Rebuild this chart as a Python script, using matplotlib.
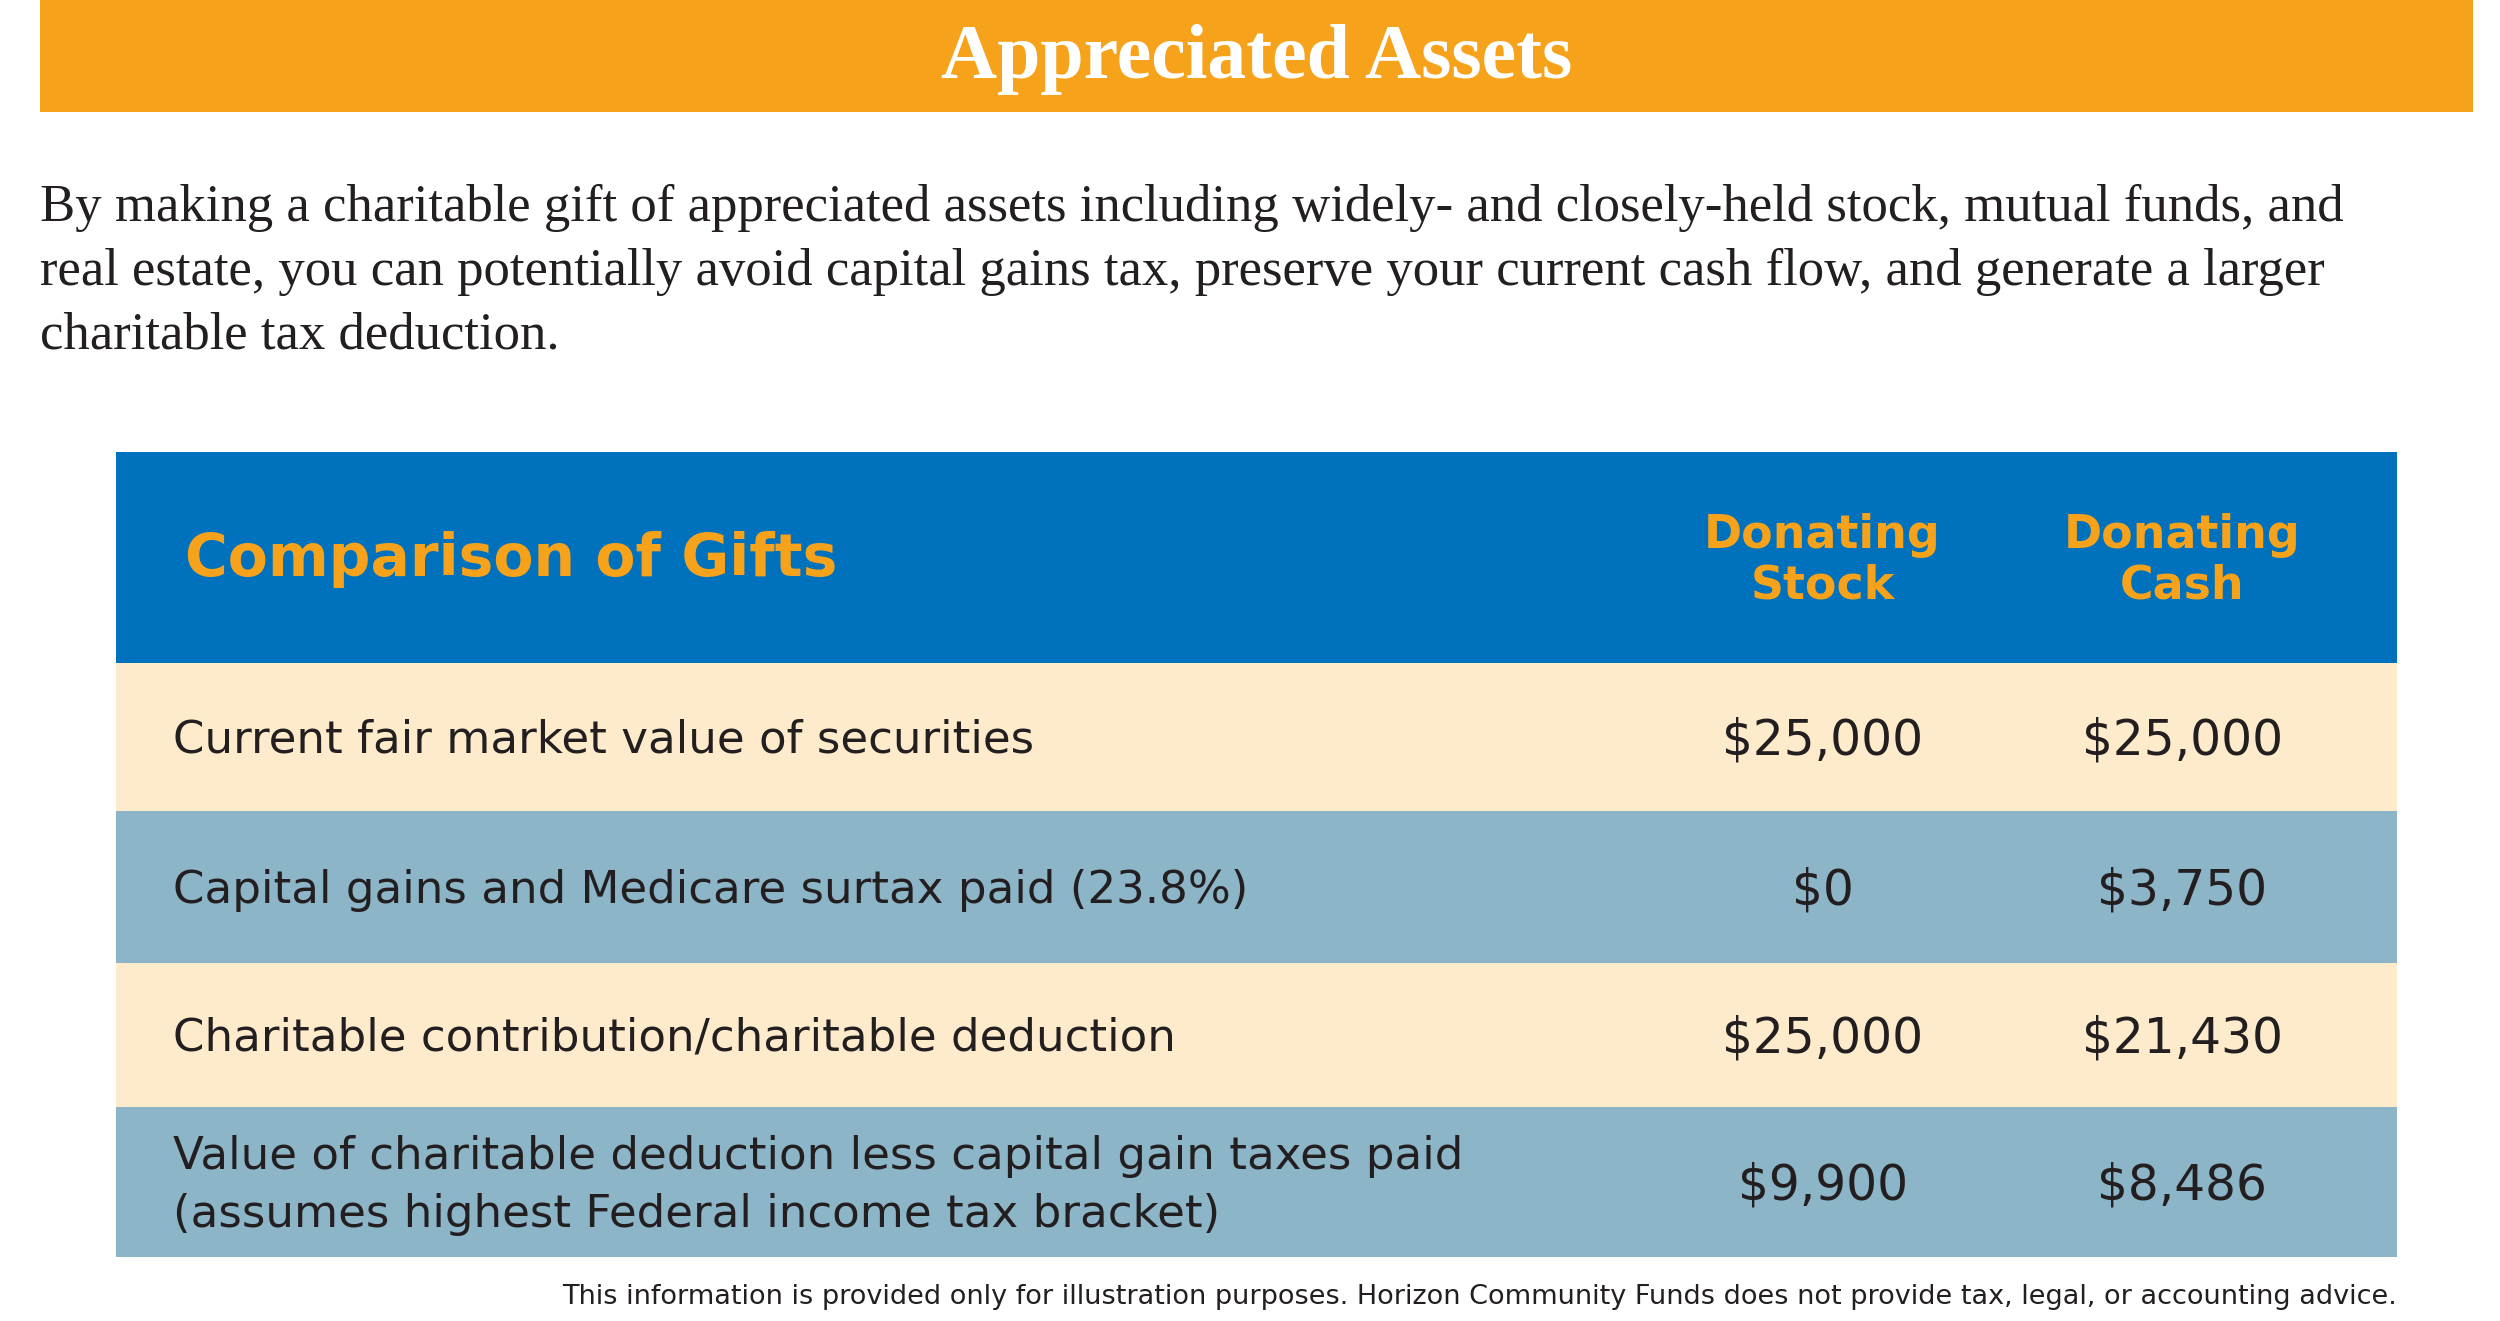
import matplotlib
matplotlib.use("Agg")
import matplotlib.pyplot as plt
from matplotlib.patches import Rectangle

title = "Appreciated Assets"
intro = ["By making a charitable gift of appreciated assets including widely- and closely-held stock, mutual funds, and",
         "real estate, you can potentially avoid capital gains tax, preserve your current cash flow, and generate a larger",
         "charitable tax deduction."]
header = "Comparison of Gifts"
col_heads = ["Donating\nStock", "Donating\nCash"]
row_labels = ["Current fair market value of securities",
              "Capital gains and Medicare surtax paid (23.8%)",
              "Charitable contribution/charitable deduction",
              "Value of charitable deduction less capital gain taxes paid\n(assumes highest Federal income tax bracket)"]
stock_vals = ["$25,000", "$0", "$25,000", "$9,900"]
cash_vals = ["$25,000", "$3,750", "$21,430", "$8,486"]
footnote = "This information is provided only for illustration purposes. Horizon Community Funds does not provide tax, legal, or accounting advice."

W, H = 1550, 827
fig = plt.figure(figsize=(25, 13.21), dpi=100)
ax = fig.add_axes([0, 0, 1, 1])
ax.set_xlim(0, W); ax.set_ylim(H, 0); ax.axis("off")

ORANGE = "#F6A31B"; BLUE = "#0071BC"; CREAM = "#FDEBCB"; GRAY = "#8DB5C8"; DARK = "#231F20"

ax.add_patch(Rectangle((25, 0), 1508, 70, color=ORANGE, lw=0))
ax.text(779, 37, title, ha="center", va="center", color="white", fontsize=56,
        fontweight="bold", family="Liberation Serif")
for i, line in enumerate(intro):
    ax.text(25, 130 + 40 * i, line, ha="left", va="center", color=DARK, fontsize=38,
            family="Liberation Serif")

ax.add_patch(Rectangle((72, 283), 1414, 132, color=BLUE, lw=0))
ax.text(115, 350, header, ha="left", va="center", color=ORANGE, fontsize=42,
        fontweight="bold", family="DejaVu Sans")
cols = [1130, 1353]
for x, h in zip(cols, col_heads):
    ax.text(x, 351, h, ha="center", va="center", color=ORANGE, fontsize=33,
            fontweight="bold", linespacing=1.15)

bounds = [415, 508, 603, 693, 787]
for i, lab in enumerate(row_labels):
    y0, y1 = bounds[i], bounds[i + 1]
    ax.add_patch(Rectangle((72, y0), 1414, y1 - y0, color=CREAM if i % 2 == 0 else GRAY, lw=0))
    yc = (y0 + y1) / 2 + 2
    ax.text(107, yc, lab, ha="left", va="center", color=DARK, fontsize=32.5, linespacing=1.45)
    ax.text(cols[0], yc, stock_vals[i], ha="center", va="center", color=DARK, fontsize=35)
    ax.text(cols[1], yc, cash_vals[i], ha="center", va="center", color=DARK, fontsize=35)

ax.text(1486, 812, footnote, ha="right", va="center", color=DARK, fontsize=19.5)
fig.savefig("out.png", dpi=100)
